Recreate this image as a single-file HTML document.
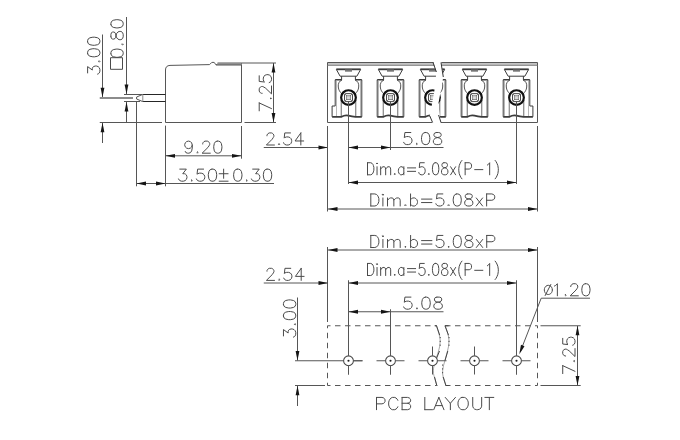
<!DOCTYPE html>
<html><head><meta charset="utf-8"><title>PCB terminal block drawing</title>
<style>
html,body{margin:0;padding:0;background:#fff;}
body{width:680px;height:440px;overflow:hidden;font-family:"Liberation Sans",sans-serif;}
svg{display:block;position:absolute;left:0;top:0;}
</style></head><body>
<svg width="680" height="440" viewBox="0 0 680 440"><path d="M165.5,122.5 L165.5,70 Q165.5,65.6 170,65.4 L209.6,64.6 L211.8,62.4 L214.2,62.4 L215.9,64.8 L241.5,64.8" fill="none" stroke="#565656" stroke-width="1" />
<line x1="241.5" y1="63" x2="241.5" y2="122.5" stroke="#565656" stroke-width="1" />
<line x1="165.5" y1="122.5" x2="241.5" y2="122.5" stroke="#565656" stroke-width="1" />
<rect x="217" y="63" width="24.5" height="2" fill="#c8c8c8"/>
<line x1="217.5" y1="63" x2="276" y2="63" stroke="#565656" stroke-width="1" />
<line x1="216" y1="64.8" x2="241.5" y2="64.8" stroke="#565656" stroke-width="1" />
<line x1="99.75" y1="122.5" x2="162" y2="122.5" stroke="#565656" stroke-width="1" />
<line x1="244.5" y1="122.5" x2="276" y2="122.5" stroke="#565656" stroke-width="1" />
<path d="M142.5,94.5 L165.5,94.5 M142.5,101.5 L165.5,101.5" fill="none" stroke="#262626" stroke-width="1" />
<path d="M142.8,94.5 L142.8,101.5" fill="none" stroke="#8a8a8a" stroke-width="1" />
<path d="M142.5,94.5 L136.6,97 L136.6,99 L142.5,101.5" fill="none" stroke="#555" stroke-width="1" />
<line x1="124" y1="94.5" x2="142" y2="94.5" stroke="#565656" stroke-width="1" />
<line x1="124" y1="101.5" x2="140" y2="101.5" stroke="#565656" stroke-width="1" />
<line x1="99.75" y1="98" x2="133" y2="98" stroke="#8c8c8c" stroke-width="2" />
<line x1="102.5" y1="34.5" x2="102.5" y2="97" stroke="#565656" stroke-width="1" />
<polygon points="102.5,97.2 100.6,87.7 104.4,87.7" fill="#151515"/>
<line x1="102.5" y1="123" x2="102.5" y2="143" stroke="#565656" stroke-width="1" />
<polygon points="102.5,122.8 104.4,132.3 100.6,132.3" fill="#151515"/>
<line x1="126.5" y1="17" x2="126.5" y2="94" stroke="#565656" stroke-width="1" />
<polygon points="126.5,94 124.6,84.5 128.4,84.5" fill="#151515"/>
<line x1="126.5" y1="102" x2="126.5" y2="122.5" stroke="#565656" stroke-width="1" />
<polygon points="126.5,102 128.4,111.5 124.6,111.5" fill="#151515"/>
<line x1="136.5" y1="101.5" x2="136.5" y2="186.3" stroke="#565656" stroke-width="1" />
<line x1="165.5" y1="125.6" x2="165.5" y2="186.3" stroke="#565656" stroke-width="1" />
<line x1="241.5" y1="126" x2="241.5" y2="158.7" stroke="#565656" stroke-width="1" />
<line x1="165.5" y1="155.8" x2="241.5" y2="155.8" stroke="#565656" stroke-width="1" />
<polygon points="165.5,155.8 175,153.9 175,157.7" fill="#151515"/>
<polygon points="241.5,155.8 232,157.7 232,153.9" fill="#151515"/>
<line x1="136.5" y1="183.5" x2="274" y2="183.5" stroke="#565656" stroke-width="1" />
<polygon points="136.5,183.5 146,181.6 146,185.4" fill="#151515"/>
<polygon points="165.5,183.5 156,185.4 156,181.6" fill="#151515"/>
<line x1="273.5" y1="63" x2="273.5" y2="122.5" stroke="#565656" stroke-width="1" />
<polygon points="273.5,63 275.4,72.5 271.6,72.5" fill="#151515"/>
<polygon points="273.5,122.5 271.6,113 275.4,113" fill="#151515"/>
<path d="M87.62,72.95 L87.62,66.6 L92.3,70.06 L92.3,68.33 L92.88,67.18 L93.47,66.6 L95.22,66.03 L96.39,66.03 L98.15,66.6 L99.32,67.76 L99.9,69.49 L99.9,71.22 L99.32,72.95 L98.73,73.52 L97.56,74.1M98.73,61.42 L99.32,61.99 L99.9,61.42 L99.32,60.84 L98.73,61.42M87.62,53.34 L88.2,55.07 L89.96,56.23 L92.88,56.8 L94.64,56.8 L97.56,56.23 L99.32,55.07 L99.9,53.34 L99.9,52.19 L99.32,50.46 L97.56,49.31 L94.64,48.73 L92.88,48.73 L89.96,49.31 L88.2,50.46 L87.62,52.19 L87.62,53.34M87.62,41.81 L88.2,43.54 L89.96,44.7 L92.88,45.27 L94.64,45.27 L97.56,44.7 L99.32,43.54 L99.9,41.81 L99.9,40.66 L99.32,38.93 L97.56,37.78 L94.64,37.2 L92.88,37.2 L89.96,37.78 L88.2,38.93 L87.62,40.66 L87.62,41.81" fill="none" stroke="#4a4a4a" stroke-width="1.0" stroke-linecap="round" stroke-linejoin="round"/>
<path d="M110.92,53.78 L111.5,55.54 L113.25,56.71 L116.18,57.3 L117.94,57.3 L120.86,56.71 L122.62,55.54 L123.2,53.78 L123.2,52.6 L122.62,50.84 L120.86,49.66 L117.94,49.08 L116.18,49.08 L113.25,49.66 L111.5,50.84 L110.92,52.6 L110.92,53.78M122.03,44.38 L122.62,44.96 L123.2,44.38 L122.62,43.79 L122.03,44.38M110.92,36.74 L111.5,38.5 L112.67,39.09 L113.84,39.09 L115.01,38.5 L115.59,37.33 L116.18,34.97 L116.77,33.21 L117.94,32.04 L119.11,31.45 L120.86,31.45 L122.03,32.04 L122.62,32.62 L123.2,34.39 L123.2,36.74 L122.62,38.5 L122.03,39.09 L120.86,39.67 L119.11,39.67 L117.94,39.09 L116.77,37.91 L116.18,36.15 L115.59,33.8 L115.01,32.62 L113.84,32.04 L112.67,32.04 L111.5,32.62 L110.92,34.39 L110.92,36.74M110.92,24.4 L111.5,26.16 L113.25,27.34 L116.18,27.92 L117.94,27.92 L120.86,27.34 L122.62,26.16 L123.2,24.4 L123.2,23.22 L122.62,21.46 L120.86,20.29 L117.94,19.7 L116.18,19.7 L113.25,20.29 L111.5,21.46 L110.92,23.22 L110.92,24.4" fill="none" stroke="#4a4a4a" stroke-width="1.0" stroke-linecap="round" stroke-linejoin="round"/>
<path d="M110.5,57.7 L122.5,57.7 L122.5,69.3 L110.5,69.3 Z" fill="none" stroke="#4a4a4a" stroke-width="1" />
<path d="M192.26,145.15 L191.67,146.88 L190.51,148.02 L188.77,148.6 L188.19,148.6 L186.44,148.02 L185.28,146.88 L184.7,145.15 L184.7,144.57 L185.28,142.85 L186.44,141.7 L188.19,141.12 L188.77,141.12 L190.51,141.7 L191.67,142.85 L192.26,145.15 L192.26,148.02 L191.67,150.9 L190.51,152.62 L188.77,153.2 L187.61,153.2 L185.86,152.62 L185.28,151.47M197.49,152.05 L196.91,152.62 L197.49,153.2 L198.07,152.62 L197.49,152.05M202.72,144 L202.72,143.42 L203.3,142.27 L203.88,141.7 L205.04,141.12 L207.37,141.12 L208.53,141.7 L209.11,142.27 L209.69,143.42 L209.69,144.57 L209.11,145.72 L207.95,147.45 L202.14,153.2 L210.28,153.2M217.25,141.12 L215.51,141.7 L214.34,143.42 L213.76,146.3 L213.76,148.02 L214.34,150.9 L215.51,152.62 L217.25,153.2 L218.41,153.2 L220.16,152.62 L221.32,150.9 L221.9,148.02 L221.9,146.3 L221.32,143.42 L220.16,141.7 L218.41,141.12 L217.25,141.12" fill="none" stroke="#4a4a4a" stroke-width="1.0" stroke-linecap="round" stroke-linejoin="round"/>
<path d="M179.79,169.12 L186.33,169.12 L182.76,173.72 L184.55,173.72 L185.74,174.3 L186.33,174.88 L186.93,176.6 L186.93,177.75 L186.33,179.47 L185.14,180.62 L183.36,181.2 L181.57,181.2 L179.79,180.62 L179.19,180.05 L178.6,178.9M191.69,180.05 L191.09,180.62 L191.69,181.2 L192.28,180.62 L191.69,180.05M203.59,169.12 L197.64,169.12 L197.04,174.3 L197.64,173.72 L199.42,173.15 L201.21,173.15 L202.99,173.72 L204.18,174.88 L204.78,176.6 L204.78,177.75 L204.18,179.47 L202.99,180.62 L201.21,181.2 L199.42,181.2 L197.64,180.62 L197.04,180.05 L196.45,178.9M211.91,169.12 L210.13,169.7 L208.94,171.42 L208.34,174.3 L208.34,176.02 L208.94,178.9 L210.13,180.62 L211.91,181.2 L213.1,181.2 L214.89,180.62 L216.08,178.9 L216.67,176.02 L216.67,174.3 L216.08,171.42 L214.89,169.7 L213.1,169.12 L211.91,169.12M223.63,169.12 L223.63,178.32M219.17,173.72 L228.09,173.72M219.17,181.2 L228.09,181.2M237.2,169.12 L235.41,169.7 L234.22,171.42 L233.63,174.3 L233.63,176.02 L234.22,178.9 L235.41,180.62 L237.2,181.2 L238.39,181.2 L240.17,180.62 L241.36,178.9 L241.96,176.02 L241.96,174.3 L241.36,171.42 L240.17,169.7 L238.39,169.12 L237.2,169.12M246.71,180.05 L246.12,180.62 L246.71,181.2 L247.31,180.62 L246.71,180.05M252.66,169.12 L259.21,169.12 L255.64,173.72 L257.42,173.72 L258.61,174.3 L259.21,174.88 L259.8,176.6 L259.8,177.75 L259.21,179.47 L258.02,180.62 L256.23,181.2 L254.45,181.2 L252.66,180.62 L252.07,180.05 L251.47,178.9M266.94,169.12 L265.16,169.7 L263.97,171.42 L263.37,174.3 L263.37,176.02 L263.97,178.9 L265.16,180.62 L266.94,181.2 L268.13,181.2 L269.92,180.62 L271.11,178.9 L271.7,176.02 L271.7,174.3 L271.11,171.42 L269.92,169.7 L268.13,169.12 L266.94,169.12" fill="none" stroke="#4a4a4a" stroke-width="1.0" stroke-linecap="round" stroke-linejoin="round"/>
<path d="M259.21,102.93 L271.5,108.59M259.21,110.85 L259.21,102.93M270.33,98.41 L270.92,98.97 L271.5,98.41 L270.92,97.84 L270.33,98.41M262.14,93.32 L261.56,93.32 L260.38,92.75 L259.8,92.18 L259.21,91.05 L259.21,88.79 L259.8,87.66 L260.38,87.09 L261.56,86.53 L262.73,86.53 L263.89,87.09 L265.65,88.22 L271.5,93.88 L271.5,85.96M259.21,75.78 L259.21,81.44 L264.48,82 L263.89,81.44 L263.31,79.74 L263.31,78.04 L263.89,76.35 L265.06,75.22 L266.82,74.65 L267.99,74.65 L269.75,75.22 L270.92,76.35 L271.5,78.04 L271.5,79.74 L270.92,81.44 L270.33,82 L269.16,82.57" fill="none" stroke="#4a4a4a" stroke-width="1.0" stroke-linecap="round" stroke-linejoin="round"/>
<path d="M266.97,135.8 L266.97,135.22 L267.55,134.07 L268.12,133.5 L269.27,132.93 L271.56,132.93 L272.71,133.5 L273.29,134.07 L273.86,135.22 L273.86,136.38 L273.29,137.53 L272.14,139.25 L266.4,145 L274.43,145M279.02,143.85 L278.45,144.43 L279.02,145 L279.6,144.43 L279.02,143.85M290.5,132.93 L284.76,132.93 L284.19,138.1 L284.76,137.53 L286.48,136.95 L288.21,136.95 L289.93,137.53 L291.08,138.68 L291.65,140.4 L291.65,141.55 L291.08,143.28 L289.93,144.43 L288.21,145 L286.48,145 L284.76,144.43 L284.19,143.85 L283.62,142.7M300.83,132.93 L295.09,140.97 L303.7,140.97M300.83,132.93 L300.83,145" fill="none" stroke="#4a4a4a" stroke-width="1.0" stroke-linecap="round" stroke-linejoin="round"/>
<line x1="263.75" y1="147.5" x2="328" y2="147.5" stroke="#565656" stroke-width="1" />
<polygon points="328,147.5 318.5,149.4 318.5,145.6" fill="#151515"/>
<rect x="327.5" y="62.5" width="210.0" height="2.8" fill="#c4c4c4"/>
<path d="M327.5,62.5 L537.5,62.5 L537.5,122.5 L327.5,122.5 Z" fill="none" stroke="#565656" stroke-width="1" />
<line x1="327.5" y1="65.3" x2="537.5" y2="65.3" stroke="#808080" stroke-width="1" />
<path d="M336.3,69.3 L360.7,69.3" fill="none" stroke="#3c3c3c" stroke-width="1.8" /><path d="M336.3,69.3 L340.1,76.2 L356.9,76.2 L360.7,69.3" fill="none" stroke="#3c3c3c" stroke-width="1" /><rect x="345" y="69.5" width="7" height="2.2" fill="#777"/><path d="M341.6,76.2 L341.6,79.8 M355.4,76.2 L355.4,79.8" fill="none" stroke="#3c3c3c" stroke-width="1" /><path d="M335.2,79.8 L342,79.8 M355,79.8 L361.8,79.8" fill="none" stroke="#3c3c3c" stroke-width="1.4" /><path d="M335.2,79.8 L335.2,106 L332.1,106 L332.1,116.8" fill="none" stroke="#3c3c3c" stroke-width="1" /><path d="M361.8,79.8 L361.8,116.8" fill="none" stroke="#3c3c3c" stroke-width="1" /><path d="M336.5,81 L336.5,116.8 M360.5,81 L360.5,116.8" fill="none" stroke="#b8b8b8" stroke-width="1" /><path d="M342,80 C339,81 337.9,84 338.3,87 C338.5,90 340,92 341.9,94" fill="none" stroke="#555" stroke-width="1" /><path d="M355,80 C358,81 359.1,84 358.7,87 C358.5,90 357,92 355.1,94" fill="none" stroke="#555" stroke-width="1" /><path d="M341.3,100 L341.3,116.8 M355.7,100 L355.7,116.8" fill="none" stroke="#8e8e8e" stroke-width="1.3" /><path d="M332.1,116.8 L341.5,116.8 Q345,114.6 348.5,115.6 Q352,116.6 355.5,116.8 L361.8,116.8" fill="none" stroke="#3c3c3c" stroke-width="1.7" /><circle cx="348.5" cy="97.6" r="7.35" fill="#fff" stroke="#111" stroke-width="2.2"/><rect x="344.5" y="93.6" width="8" height="8" rx="1.3" fill="#fafafa" stroke="#4a4a4a" stroke-width="1"/><path d="M344.9,94 L352.1,101.2 M352.1,94 L344.9,101.2" fill="none" stroke="#5a5a5a" stroke-width="0.9" /><rect x="346.7" y="95.8" width="3.6" height="3.6" fill="#dcdcdc" stroke="#666" stroke-width="0.7"/><line x1="348.5" y1="101.2" x2="348.5" y2="184" stroke="#565656" stroke-width="1" />
<path d="M378.3,69.3 L402.7,69.3" fill="none" stroke="#3c3c3c" stroke-width="1.8" /><path d="M378.3,69.3 L382.1,76.2 L398.9,76.2 L402.7,69.3" fill="none" stroke="#3c3c3c" stroke-width="1" /><rect x="387" y="69.5" width="7" height="2.2" fill="#777"/><path d="M383.6,76.2 L383.6,79.8 M397.4,76.2 L397.4,79.8" fill="none" stroke="#3c3c3c" stroke-width="1" /><path d="M377.2,79.8 L384,79.8 M397,79.8 L403.8,79.8" fill="none" stroke="#3c3c3c" stroke-width="1.4" /><path d="M377.2,79.8 L377.2,116.8 M403.8,79.8 L403.8,116.8" fill="none" stroke="#3c3c3c" stroke-width="1" /><path d="M378.5,81 L378.5,116.8 M402.5,81 L402.5,116.8" fill="none" stroke="#b8b8b8" stroke-width="1" /><path d="M384,80 C381,81 379.9,84 380.3,87 C380.5,90 382,92 383.9,94" fill="none" stroke="#555" stroke-width="1" /><path d="M397,80 C400,81 401.1,84 400.7,87 C400.5,90 399,92 397.1,94" fill="none" stroke="#555" stroke-width="1" /><path d="M383.3,100 L383.3,116.8 M397.7,100 L397.7,116.8" fill="none" stroke="#8e8e8e" stroke-width="1.3" /><path d="M377.2,116.8 L383.5,116.8 Q387,114.6 390.5,115.6 Q394,116.6 397.5,116.8 L403.8,116.8" fill="none" stroke="#3c3c3c" stroke-width="1.7" /><circle cx="390.5" cy="97.6" r="7.35" fill="#fff" stroke="#111" stroke-width="2.2"/><rect x="386.5" y="93.6" width="8" height="8" rx="1.3" fill="#fafafa" stroke="#4a4a4a" stroke-width="1"/><path d="M386.9,94 L394.1,101.2 M394.1,94 L386.9,101.2" fill="none" stroke="#5a5a5a" stroke-width="0.9" /><rect x="388.7" y="95.8" width="3.6" height="3.6" fill="#dcdcdc" stroke="#666" stroke-width="0.7"/><line x1="390.5" y1="101.2" x2="390.5" y2="150" stroke="#565656" stroke-width="1" />
<path d="M420.3,69.3 L444.7,69.3" fill="none" stroke="#3c3c3c" stroke-width="1.8" /><path d="M420.3,69.3 L424.1,76.2 L440.9,76.2 L444.7,69.3" fill="none" stroke="#3c3c3c" stroke-width="1" /><rect x="429" y="69.5" width="7" height="2.2" fill="#777"/><path d="M425.6,76.2 L425.6,79.8 M439.4,76.2 L439.4,79.8" fill="none" stroke="#3c3c3c" stroke-width="1" /><path d="M419.2,79.8 L426,79.8 M439,79.8 L445.8,79.8" fill="none" stroke="#3c3c3c" stroke-width="1.4" /><path d="M419.2,79.8 L419.2,116.8 M445.8,79.8 L445.8,116.8" fill="none" stroke="#3c3c3c" stroke-width="1" /><path d="M420.5,81 L420.5,116.8 M444.5,81 L444.5,116.8" fill="none" stroke="#b8b8b8" stroke-width="1" /><path d="M426,80 C423,81 421.9,84 422.3,87 C422.5,90 424,92 425.9,94" fill="none" stroke="#555" stroke-width="1" /><path d="M439,80 C442,81 443.1,84 442.7,87 C442.5,90 441,92 439.1,94" fill="none" stroke="#555" stroke-width="1" /><path d="M425.3,100 L425.3,116.8 M439.7,100 L439.7,116.8" fill="none" stroke="#8e8e8e" stroke-width="1.3" /><path d="M419.2,116.8 L425.5,116.8 Q429,114.6 432.5,115.6 Q436,116.6 439.5,116.8 L445.8,116.8" fill="none" stroke="#3c3c3c" stroke-width="1.7" /><circle cx="432.5" cy="97.6" r="7.35" fill="#fff" stroke="#111" stroke-width="2.2"/><rect x="428.5" y="93.6" width="8" height="8" rx="1.3" fill="#fafafa" stroke="#4a4a4a" stroke-width="1"/><path d="M428.9,94 L436.1,101.2 M436.1,94 L428.9,101.2" fill="none" stroke="#5a5a5a" stroke-width="0.9" /><rect x="430.7" y="95.8" width="3.6" height="3.6" fill="#dcdcdc" stroke="#666" stroke-width="0.7"/>
<path d="M462.3,69.3 L486.7,69.3" fill="none" stroke="#3c3c3c" stroke-width="1.8" /><path d="M462.3,69.3 L466.1,76.2 L482.9,76.2 L486.7,69.3" fill="none" stroke="#3c3c3c" stroke-width="1" /><rect x="471" y="69.5" width="7" height="2.2" fill="#777"/><path d="M467.6,76.2 L467.6,79.8 M481.4,76.2 L481.4,79.8" fill="none" stroke="#3c3c3c" stroke-width="1" /><path d="M461.2,79.8 L468,79.8 M481,79.8 L487.8,79.8" fill="none" stroke="#3c3c3c" stroke-width="1.4" /><path d="M461.2,79.8 L461.2,116.8 M487.8,79.8 L487.8,116.8" fill="none" stroke="#3c3c3c" stroke-width="1" /><path d="M462.5,81 L462.5,116.8 M486.5,81 L486.5,116.8" fill="none" stroke="#b8b8b8" stroke-width="1" /><path d="M468,80 C465,81 463.9,84 464.3,87 C464.5,90 466,92 467.9,94" fill="none" stroke="#555" stroke-width="1" /><path d="M481,80 C484,81 485.1,84 484.7,87 C484.5,90 483,92 481.1,94" fill="none" stroke="#555" stroke-width="1" /><path d="M467.3,100 L467.3,116.8 M481.7,100 L481.7,116.8" fill="none" stroke="#8e8e8e" stroke-width="1.3" /><path d="M461.2,116.8 L467.5,116.8 Q471,114.6 474.5,115.6 Q478,116.6 481.5,116.8 L487.8,116.8" fill="none" stroke="#3c3c3c" stroke-width="1.7" /><circle cx="474.5" cy="97.6" r="7.35" fill="#fff" stroke="#111" stroke-width="2.2"/><rect x="470.5" y="93.6" width="8" height="8" rx="1.3" fill="#fafafa" stroke="#4a4a4a" stroke-width="1"/><path d="M470.9,94 L478.1,101.2 M478.1,94 L470.9,101.2" fill="none" stroke="#5a5a5a" stroke-width="0.9" /><rect x="472.7" y="95.8" width="3.6" height="3.6" fill="#dcdcdc" stroke="#666" stroke-width="0.7"/>
<path d="M504.3,69.3 L528.7,69.3" fill="none" stroke="#3c3c3c" stroke-width="1.8" /><path d="M504.3,69.3 L508.1,76.2 L524.9,76.2 L528.7,69.3" fill="none" stroke="#3c3c3c" stroke-width="1" /><rect x="513" y="69.5" width="7" height="2.2" fill="#777"/><path d="M509.6,76.2 L509.6,79.8 M523.4,76.2 L523.4,79.8" fill="none" stroke="#3c3c3c" stroke-width="1" /><path d="M503.2,79.8 L510,79.8 M523,79.8 L529.8,79.8" fill="none" stroke="#3c3c3c" stroke-width="1.4" /><path d="M529.8,79.8 L529.8,106 L532.9,106 L532.9,116.8" fill="none" stroke="#3c3c3c" stroke-width="1" /><path d="M503.2,79.8 L503.2,116.8" fill="none" stroke="#3c3c3c" stroke-width="1" /><path d="M504.5,81 L504.5,116.8 M528.5,81 L528.5,116.8" fill="none" stroke="#b8b8b8" stroke-width="1" /><path d="M510,80 C507,81 505.9,84 506.3,87 C506.5,90 508,92 509.9,94" fill="none" stroke="#555" stroke-width="1" /><path d="M523,80 C526,81 527.1,84 526.7,87 C526.5,90 525,92 523.1,94" fill="none" stroke="#555" stroke-width="1" /><path d="M509.3,100 L509.3,116.8 M523.7,100 L523.7,116.8" fill="none" stroke="#8e8e8e" stroke-width="1.3" /><path d="M503.2,116.8 L509.5,116.8 Q513,114.6 516.5,115.6 Q520,116.6 523.5,116.8 L532.9,116.8" fill="none" stroke="#3c3c3c" stroke-width="1.7" /><circle cx="516.5" cy="97.6" r="7.35" fill="#fff" stroke="#111" stroke-width="2.2"/><rect x="512.5" y="93.6" width="8" height="8" rx="1.3" fill="#fafafa" stroke="#4a4a4a" stroke-width="1"/><path d="M512.9,94 L520.1,101.2 M520.1,94 L512.9,101.2" fill="none" stroke="#5a5a5a" stroke-width="0.9" /><rect x="514.7" y="95.8" width="3.6" height="3.6" fill="#dcdcdc" stroke="#666" stroke-width="0.7"/><line x1="516.5" y1="101.2" x2="516.5" y2="184" stroke="#565656" stroke-width="1" />
<polygon points="433,60 441,60 443.3,77 438.3,104 441,124 432.6,124 429.8,116 434.5,90 436.4,72" fill="#fff"/>
<path d="M433,62.5 L436.4,72 M441,62.5 L443.3,77 M429.8,116 L432.6,122.5 M438.6,115 L441,122.5" fill="none" stroke="#333" stroke-width="1" />
<line x1="327.5" y1="126" x2="327.5" y2="211.5" stroke="#565656" stroke-width="1" />
<line x1="537.5" y1="126" x2="537.5" y2="211.5" stroke="#565656" stroke-width="1" />
<line x1="328" y1="147.5" x2="349" y2="147.5" stroke="#565656" stroke-width="1" stroke-opacity="0"/>
<line x1="348.5" y1="147.5" x2="443.5" y2="147.5" stroke="#565656" stroke-width="1" />
<polygon points="348.5,147.5 358,145.6 358,149.4" fill="#151515"/>
<polygon points="390.5,147.5 381,149.4 381,145.6" fill="#151515"/>
<path d="M410.82,132.53 L404.89,132.53 L404.29,137.7 L404.89,137.12 L406.67,136.55 L408.45,136.55 L410.23,137.12 L411.42,138.28 L412.01,140 L412.01,141.15 L411.42,142.88 L410.23,144.03 L408.45,144.6 L406.67,144.6 L404.89,144.03 L404.29,143.45 L403.7,142.3M416.76,143.45 L416.17,144.03 L416.76,144.6 L417.36,144.03 L416.76,143.45M425.07,132.53 L423.29,133.1 L422.11,134.82 L421.51,137.7 L421.51,139.42 L422.11,142.3 L423.29,144.03 L425.07,144.6 L426.26,144.6 L428.04,144.03 L429.23,142.3 L429.82,139.42 L429.82,137.7 L429.23,134.82 L428.04,133.1 L426.26,132.53 L425.07,132.53M436.36,132.53 L434.57,133.1 L433.98,134.25 L433.98,135.4 L434.57,136.55 L435.76,137.12 L438.14,137.7 L439.92,138.28 L441.11,139.42 L441.7,140.57 L441.7,142.3 L441.11,143.45 L440.51,144.03 L438.73,144.6 L436.36,144.6 L434.57,144.03 L433.98,143.45 L433.39,142.3 L433.39,140.57 L433.98,139.42 L435.17,138.28 L436.95,137.7 L439.32,137.12 L440.51,136.55 L441.11,135.4 L441.11,134.25 L440.51,133.1 L438.73,132.53 L436.36,132.53" fill="none" stroke="#4a4a4a" stroke-width="1.0" stroke-linecap="round" stroke-linejoin="round"/>
<line x1="348.5" y1="182.5" x2="516.5" y2="182.5" stroke="#565656" stroke-width="1" />
<polygon points="348.5,182.5 358,180.6 358,184.4" fill="#151515"/>
<polygon points="516.5,182.5 507,184.4 507,180.6" fill="#151515"/>
<path d="M367.5,162.73 L367.5,174.8M367.5,162.73 L370.68,162.73 L372.04,163.3 L372.95,164.45 L373.4,165.6 L373.86,167.33 L373.86,170.2 L373.4,171.93 L372.95,173.08 L372.04,174.23 L370.68,174.8 L367.5,174.8M376.63,163.47 L377.04,163.99 L377.45,163.47 L377.04,162.96 L376.63,163.47 L377.45,163.47M377.04,166.75 L377.04,174.8M380.67,166.75 L380.67,174.8M380.67,169.05 L382.03,167.33 L382.94,166.75 L384.3,166.75 L385.21,167.33 L385.67,169.05 L385.67,174.8M385.67,169.05 L387.03,167.33 L387.94,166.75 L389.3,166.75 L390.21,167.33 L390.66,169.05 L390.66,174.8M394.75,173.65 L394.3,174.23 L394.75,174.8 L395.2,174.23 L394.75,173.65M403.83,166.75 L403.83,174.8M403.83,168.48 L402.93,167.33 L402.02,166.75 L400.65,166.75 L399.75,167.33 L398.84,168.48 L398.38,170.2 L398.38,171.35 L398.84,173.08 L399.75,174.23 L400.65,174.8 L402.02,174.8 L402.93,174.23 L403.83,173.08M407.47,167.9 L415.64,167.9M407.47,171.35 L415.64,171.35M424.27,162.73 L419.73,162.73 L419.27,167.9 L419.73,167.33 L421.09,166.75 L422.45,166.75 L423.82,167.33 L424.73,168.48 L425.18,170.2 L425.18,171.35 L424.73,173.08 L423.82,174.23 L422.45,174.8 L421.09,174.8 L419.73,174.23 L419.27,173.65 L418.82,172.5M428.81,173.65 L428.36,174.23 L428.81,174.8 L429.27,174.23 L428.81,173.65M435.17,162.73 L433.81,163.3 L432.9,165.03 L432.45,167.9 L432.45,169.62 L432.9,172.5 L433.81,174.23 L435.17,174.8 L436.08,174.8 L437.44,174.23 L438.35,172.5 L438.8,169.62 L438.8,167.9 L438.35,165.03 L437.44,163.3 L436.08,162.73 L435.17,162.73M443.8,162.73 L442.44,163.3 L441.98,164.45 L441.98,165.6 L442.44,166.75 L443.35,167.33 L445.16,167.9 L446.52,168.48 L447.43,169.62 L447.89,170.78 L447.89,172.5 L447.43,173.65 L446.98,174.23 L445.62,174.8 L443.8,174.8 L442.44,174.23 L441.98,173.65 L441.53,172.5 L441.53,170.78 L441.98,169.62 L442.89,168.48 L444.25,167.9 L446.07,167.33 L446.98,166.75 L447.43,165.6 L447.43,164.45 L446.98,163.3 L445.62,162.73 L443.8,162.73M450.61,166.75 L455.61,174.8M455.61,166.75 L450.61,174.8M461.97,160.43 L461.06,161.58 L460.15,163.3 L459.24,165.6 L458.79,168.48 L458.79,170.78 L459.24,173.65 L460.15,175.95 L461.06,177.68 L461.97,178.83M465.15,162.73 L465.15,174.8M465.15,162.73 L469.23,162.73 L470.6,163.3 L471.05,163.88 L471.5,165.03 L471.5,166.75 L471.05,167.9 L470.6,168.48 L469.23,169.05 L465.15,169.05M474.68,169.62 L482.86,169.62M487.4,165.03 L488.31,164.45 L489.67,162.73 L489.67,174.8M495.12,160.43 L496.03,161.58 L496.94,163.3 L497.85,165.6 L498.3,168.48 L498.3,170.78 L497.85,173.65 L496.94,175.95 L496.03,177.68 L495.12,178.83" fill="none" stroke="#4a4a4a" stroke-width="1.0" stroke-linecap="round" stroke-linejoin="round"/>
<line x1="328" y1="209" x2="537.5" y2="209" stroke="#565656" stroke-width="1" />
<polygon points="328,209 337.5,207.1 337.5,210.9" fill="#151515"/>
<polygon points="537.5,209 528,210.9 528,207.1" fill="#151515"/>
<path d="M370.8,193.93 L370.8,206M370.8,193.93 L374.83,193.93 L376.56,194.5 L377.72,195.65 L378.29,196.8 L378.87,198.53 L378.87,201.4 L378.29,203.12 L377.72,204.28 L376.56,205.43 L374.83,206 L370.8,206M382.38,194.67 L382.9,195.19 L383.42,194.67 L382.9,194.16 L382.38,194.67 L383.42,194.67M382.9,197.95 L382.9,206M387.51,197.95 L387.51,206M387.51,200.25 L389.24,198.53 L390.39,197.95 L392.12,197.95 L393.27,198.53 L393.85,200.25 L393.85,206M393.85,200.25 L395.58,198.53 L396.73,197.95 L398.46,197.95 L399.61,198.53 L400.19,200.25 L400.19,206M405.38,204.85 L404.8,205.43 L405.38,206 L405.95,205.43 L405.38,204.85M410.56,193.93 L410.56,206M410.56,199.68 L411.72,198.53 L412.87,197.95 L414.6,197.95 L415.75,198.53 L416.9,199.68 L417.48,201.4 L417.48,202.55 L416.9,204.28 L415.75,205.43 L414.6,206 L412.87,206 L411.72,205.43 L410.56,204.28M421.51,199.1 L431.89,199.1M421.51,202.55 L431.89,202.55M442.83,193.93 L437.07,193.93 L436.5,199.1 L437.07,198.53 L438.8,197.95 L440.53,197.95 L442.26,198.53 L443.41,199.68 L443.99,201.4 L443.99,202.55 L443.41,204.28 L442.26,205.43 L440.53,206 L438.8,206 L437.07,205.43 L436.5,204.85 L435.92,203.7M448.6,204.85 L448.02,205.43 L448.6,206 L449.17,205.43 L448.6,204.85M456.67,193.93 L454.94,194.5 L453.78,196.22 L453.21,199.1 L453.21,200.82 L453.78,203.7 L454.94,205.43 L456.67,206 L457.82,206 L459.55,205.43 L460.7,203.7 L461.28,200.82 L461.28,199.1 L460.7,196.22 L459.55,194.5 L457.82,193.93 L456.67,193.93M467.61,193.93 L465.89,194.5 L465.31,195.65 L465.31,196.8 L465.89,197.95 L467.04,198.53 L469.34,199.1 L471.07,199.68 L472.23,200.82 L472.8,201.97 L472.8,203.7 L472.23,204.85 L471.65,205.43 L469.92,206 L467.61,206 L465.89,205.43 L465.31,204.85 L464.73,203.7 L464.73,201.97 L465.31,200.82 L466.46,199.68 L468.19,199.1 L470.5,198.53 L471.65,197.95 L472.23,196.8 L472.23,195.65 L471.65,194.5 L469.92,193.93 L467.61,193.93M476.26,197.95 L482.6,206M482.6,197.95 L476.26,206M486.63,193.93 L486.63,206M486.63,193.93 L491.82,193.93 L493.55,194.5 L494.12,195.07 L494.7,196.22 L494.7,197.95 L494.12,199.1 L493.55,199.68 L491.82,200.25 L486.63,200.25" fill="none" stroke="#4a4a4a" stroke-width="1.0" stroke-linecap="round" stroke-linejoin="round"/>
<line x1="327.5" y1="247" x2="327.5" y2="322" stroke="#565656" stroke-width="1" />
<line x1="537.5" y1="247" x2="537.5" y2="322" stroke="#565656" stroke-width="1" />
<line x1="328" y1="250" x2="537.5" y2="250" stroke="#565656" stroke-width="1" />
<polygon points="328,250 337.5,248.1 337.5,251.9" fill="#151515"/>
<polygon points="537.5,250 528,251.9 528,248.1" fill="#151515"/>
<path d="M370.8,235.43 L370.8,247.5M370.8,235.43 L374.84,235.43 L376.57,236 L377.72,237.15 L378.3,238.3 L378.87,240.03 L378.87,242.9 L378.3,244.62 L377.72,245.78 L376.57,246.93 L374.84,247.5 L370.8,247.5M382.39,236.17 L382.91,236.69 L383.43,236.17 L382.91,235.66 L382.39,236.17 L383.43,236.17M382.91,239.45 L382.91,247.5M387.53,239.45 L387.53,247.5M387.53,241.75 L389.26,240.03 L390.41,239.45 L392.14,239.45 L393.29,240.03 L393.87,241.75 L393.87,247.5M393.87,241.75 L395.6,240.03 L396.75,239.45 L398.48,239.45 L399.64,240.03 L400.21,241.75 L400.21,247.5M405.4,246.35 L404.83,246.93 L405.4,247.5 L405.98,246.93 L405.4,246.35M410.6,235.43 L410.6,247.5M410.6,241.18 L411.75,240.03 L412.9,239.45 L414.63,239.45 L415.79,240.03 L416.94,241.18 L417.52,242.9 L417.52,244.05 L416.94,245.78 L415.79,246.93 L414.63,247.5 L412.9,247.5 L411.75,246.93 L410.6,245.78M421.55,240.6 L431.93,240.6M421.55,244.05 L431.93,244.05M442.89,235.43 L437.13,235.43 L436.55,240.6 L437.13,240.03 L438.86,239.45 L440.59,239.45 L442.32,240.03 L443.47,241.18 L444.05,242.9 L444.05,244.05 L443.47,245.78 L442.32,246.93 L440.59,247.5 L438.86,247.5 L437.13,246.93 L436.55,246.35 L435.97,245.2M448.66,246.35 L448.08,246.93 L448.66,247.5 L449.24,246.93 L448.66,246.35M456.73,235.43 L455,236 L453.85,237.72 L453.27,240.6 L453.27,242.32 L453.85,245.2 L455,246.93 L456.73,247.5 L457.89,247.5 L459.62,246.93 L460.77,245.2 L461.35,242.32 L461.35,240.6 L460.77,237.72 L459.62,236 L457.89,235.43 L456.73,235.43M467.69,235.43 L465.96,236 L465.39,237.15 L465.39,238.3 L465.96,239.45 L467.12,240.03 L469.42,240.6 L471.15,241.18 L472.31,242.32 L472.88,243.47 L472.88,245.2 L472.31,246.35 L471.73,246.93 L470,247.5 L467.69,247.5 L465.96,246.93 L465.39,246.35 L464.81,245.2 L464.81,243.47 L465.39,242.32 L466.54,241.18 L468.27,240.6 L470.58,240.03 L471.73,239.45 L472.31,238.3 L472.31,237.15 L471.73,236 L470,235.43 L467.69,235.43M476.34,239.45 L482.69,247.5M482.69,239.45 L476.34,247.5M486.73,235.43 L486.73,247.5M486.73,235.43 L491.92,235.43 L493.65,236 L494.22,236.57 L494.8,237.72 L494.8,239.45 L494.22,240.6 L493.65,241.18 L491.92,241.75 L486.73,241.75" fill="none" stroke="#4a4a4a" stroke-width="1.0" stroke-linecap="round" stroke-linejoin="round"/>
<line x1="263.75" y1="283" x2="328" y2="283" stroke="#565656" stroke-width="1" />
<polygon points="328,283 318.5,284.9 318.5,281.1" fill="#151515"/>
<path d="M266.98,271.2 L266.98,270.62 L267.56,269.47 L268.14,268.9 L269.3,268.32 L271.62,268.32 L272.78,268.9 L273.36,269.47 L273.94,270.62 L273.94,271.77 L273.36,272.92 L272.2,274.65 L266.4,280.4 L274.52,280.4M279.16,279.25 L278.58,279.82 L279.16,280.4 L279.74,279.82 L279.16,279.25M290.76,268.32 L284.96,268.32 L284.38,273.5 L284.96,272.92 L286.7,272.35 L288.44,272.35 L290.18,272.92 L291.34,274.07 L291.92,275.8 L291.92,276.95 L291.34,278.67 L290.18,279.82 L288.44,280.4 L286.7,280.4 L284.96,279.82 L284.38,279.25 L283.8,278.1M301.2,268.32 L295.4,276.38 L304.1,276.38M301.2,268.32 L301.2,280.4" fill="none" stroke="#4a4a4a" stroke-width="1.0" stroke-linecap="round" stroke-linejoin="round"/>
<line x1="348.5" y1="283" x2="516.5" y2="283" stroke="#565656" stroke-width="1" />
<polygon points="348.5,283 358,281.1 358,284.9" fill="#151515"/>
<polygon points="516.5,283 507,284.9 507,281.1" fill="#151515"/>
<line x1="348.5" y1="280.5" x2="348.5" y2="374.5" stroke="#565656" stroke-width="1" />
<line x1="516.5" y1="280.5" x2="516.5" y2="374.5" stroke="#565656" stroke-width="1" />
<path d="M367.5,263.43 L367.5,275.5M367.5,263.43 L370.68,263.43 L372.04,264 L372.95,265.15 L373.4,266.3 L373.86,268.02 L373.86,270.9 L373.4,272.62 L372.95,273.77 L372.04,274.93 L370.68,275.5 L367.5,275.5M376.63,264.17 L377.04,264.69 L377.45,264.17 L377.04,263.65 L376.63,264.17 L377.45,264.17M377.04,267.45 L377.04,275.5M380.67,267.45 L380.67,275.5M380.67,269.75 L382.03,268.02 L382.94,267.45 L384.3,267.45 L385.21,268.02 L385.67,269.75 L385.67,275.5M385.67,269.75 L387.03,268.02 L387.94,267.45 L389.3,267.45 L390.21,268.02 L390.66,269.75 L390.66,275.5M394.75,274.35 L394.3,274.93 L394.75,275.5 L395.2,274.93 L394.75,274.35M403.83,267.45 L403.83,275.5M403.83,269.18 L402.93,268.02 L402.02,267.45 L400.65,267.45 L399.75,268.02 L398.84,269.18 L398.38,270.9 L398.38,272.05 L398.84,273.77 L399.75,274.93 L400.65,275.5 L402.02,275.5 L402.93,274.93 L403.83,273.77M407.47,268.6 L415.64,268.6M407.47,272.05 L415.64,272.05M424.27,263.43 L419.73,263.43 L419.27,268.6 L419.73,268.02 L421.09,267.45 L422.45,267.45 L423.82,268.02 L424.73,269.18 L425.18,270.9 L425.18,272.05 L424.73,273.77 L423.82,274.93 L422.45,275.5 L421.09,275.5 L419.73,274.93 L419.27,274.35 L418.82,273.2M428.81,274.35 L428.36,274.93 L428.81,275.5 L429.27,274.93 L428.81,274.35M435.17,263.43 L433.81,264 L432.9,265.73 L432.45,268.6 L432.45,270.32 L432.9,273.2 L433.81,274.93 L435.17,275.5 L436.08,275.5 L437.44,274.93 L438.35,273.2 L438.8,270.32 L438.8,268.6 L438.35,265.73 L437.44,264 L436.08,263.43 L435.17,263.43M443.8,263.43 L442.44,264 L441.98,265.15 L441.98,266.3 L442.44,267.45 L443.35,268.02 L445.16,268.6 L446.52,269.18 L447.43,270.32 L447.89,271.48 L447.89,273.2 L447.43,274.35 L446.98,274.93 L445.62,275.5 L443.8,275.5 L442.44,274.93 L441.98,274.35 L441.53,273.2 L441.53,271.48 L441.98,270.32 L442.89,269.18 L444.25,268.6 L446.07,268.02 L446.98,267.45 L447.43,266.3 L447.43,265.15 L446.98,264 L445.62,263.43 L443.8,263.43M450.61,267.45 L455.61,275.5M455.61,267.45 L450.61,275.5M461.97,261.12 L461.06,262.27 L460.15,264 L459.24,266.3 L458.79,269.18 L458.79,271.48 L459.24,274.35 L460.15,276.65 L461.06,278.38 L461.97,279.52M465.15,263.43 L465.15,275.5M465.15,263.43 L469.23,263.43 L470.6,264 L471.05,264.57 L471.5,265.73 L471.5,267.45 L471.05,268.6 L470.6,269.18 L469.23,269.75 L465.15,269.75M474.68,270.32 L482.86,270.32M487.4,265.73 L488.31,265.15 L489.67,263.43 L489.67,275.5M495.12,261.12 L496.03,262.27 L496.94,264 L497.85,266.3 L498.3,269.18 L498.3,271.48 L497.85,274.35 L496.94,276.65 L496.03,278.38 L495.12,279.52" fill="none" stroke="#4a4a4a" stroke-width="1.0" stroke-linecap="round" stroke-linejoin="round"/>
<line x1="348.5" y1="311.75" x2="443.5" y2="311.75" stroke="#565656" stroke-width="1" />
<polygon points="348.5,311.75 358,309.85 358,313.65" fill="#151515"/>
<polygon points="390.5,311.75 381,313.65 381,309.85" fill="#151515"/>
<line x1="390.5" y1="309.5" x2="390.5" y2="374.5" stroke="#565656" stroke-width="1" />
<path d="M410.94,297.12 L404.91,297.12 L404.3,302.3 L404.91,301.72 L406.72,301.15 L408.52,301.15 L410.33,301.72 L411.54,302.88 L412.14,304.6 L412.14,305.75 L411.54,307.47 L410.33,308.62 L408.52,309.2 L406.72,309.2 L404.91,308.62 L404.3,308.05 L403.7,306.9M416.97,308.05 L416.37,308.62 L416.97,309.2 L417.57,308.62 L416.97,308.05M425.41,297.12 L423.6,297.7 L422.4,299.43 L421.79,302.3 L421.79,304.02 L422.4,306.9 L423.6,308.62 L425.41,309.2 L426.62,309.2 L428.43,308.62 L429.63,306.9 L430.24,304.02 L430.24,302.3 L429.63,299.43 L428.43,297.7 L426.62,297.12 L425.41,297.12M436.87,297.12 L435.06,297.7 L434.46,298.85 L434.46,300 L435.06,301.15 L436.27,301.72 L438.68,302.3 L440.49,302.88 L441.7,304.02 L442.3,305.18 L442.3,306.9 L441.7,308.05 L441.09,308.62 L439.28,309.2 L436.87,309.2 L435.06,308.62 L434.46,308.05 L433.86,306.9 L433.86,305.18 L434.46,304.02 L435.67,302.88 L437.48,302.3 L439.89,301.72 L441.09,301.15 L441.7,300 L441.7,298.85 L441.09,297.7 L439.28,297.12 L436.87,297.12" fill="none" stroke="#4a4a4a" stroke-width="1.0" stroke-linecap="round" stroke-linejoin="round"/>
<line x1="297.5" y1="297.5" x2="297.5" y2="360.5" stroke="#565656" stroke-width="1" />
<polygon points="297.5,360.6 295.6,351.1 299.4,351.1" fill="#151515"/>
<line x1="297.5" y1="386" x2="297.5" y2="406" stroke="#565656" stroke-width="1" />
<polygon points="297.5,385.7 299.4,395.2 295.6,395.2" fill="#151515"/>
<line x1="295" y1="360.75" x2="362.5" y2="360.75" stroke="#565656" stroke-width="1" />
<line x1="295" y1="385.5" x2="325" y2="385.5" stroke="#565656" stroke-width="1" />
<path d="M283.46,335.94 L283.46,329.54 L288.14,333.03 L288.14,331.29 L288.73,330.12 L289.31,329.54 L291.07,328.96 L292.24,328.96 L294,329.54 L295.17,330.71 L295.75,332.45 L295.75,334.19 L295.17,335.94 L294.58,336.52 L293.41,337.1M294.58,324.31 L295.17,324.89 L295.75,324.31 L295.17,323.73 L294.58,324.31M283.46,316.18 L284.05,317.92 L285.81,319.08 L288.73,319.66 L290.49,319.66 L293.41,319.08 L295.17,317.92 L295.75,316.18 L295.75,315.01 L295.17,313.27 L293.41,312.11 L290.49,311.52 L288.73,311.52 L285.81,312.11 L284.05,313.27 L283.46,315.01 L283.46,316.18M283.46,304.55 L284.05,306.29 L285.81,307.46 L288.73,308.04 L290.49,308.04 L293.41,307.46 L295.17,306.29 L295.75,304.55 L295.75,303.39 L295.17,301.64 L293.41,300.48 L290.49,299.9 L288.73,299.9 L285.81,300.48 L284.05,301.64 L283.46,303.39 L283.46,304.55" fill="none" stroke="#4a4a4a" stroke-width="1.0" stroke-linecap="round" stroke-linejoin="round"/>
<path d="M327.5,325.75 L537.5,325.75" fill="none" stroke="#565656" stroke-width="1" stroke-dasharray="5.5 4.5" stroke-dashoffset="2.5"/>
<path d="M327.5,385.5 L537.5,385.5" fill="none" stroke="#565656" stroke-width="1" stroke-dasharray="5.5 4.5" stroke-dashoffset="2.5"/>
<path d="M327.5,325.75 L327.5,385.5" fill="none" stroke="#565656" stroke-width="1" stroke-dasharray="5.5 4.5" stroke-dashoffset="3"/>
<path d="M537.5,325.75 L537.5,385.5" fill="none" stroke="#565656" stroke-width="1" stroke-dasharray="5.5 4.5" stroke-dashoffset="3"/>
<rect x="437" y="323" width="7.6" height="5" fill="#fff"/><rect x="437.4" y="383" width="8" height="5" fill="#fff"/>
<path d="M436.5,325.75 C438,331 440.2,336 440.2,341 C440.2,348 437.5,354 435.3,361 C433,368 432.8,373 434.4,377 L436.8,385.5" fill="none" stroke="#a8a8a8" stroke-width="1" />
<path d="M434.6,325.75 L436.5,325.75 L439.7,335.2 M439.5,351 L436.6,358.2 M434.5,377 L436.8,385.5" fill="none" stroke="#444" stroke-width="1" />
<path d="M440.2,337 L440.2,347" fill="none" stroke="#444" stroke-width="1" stroke-dasharray="1.2 2.6"/>
<path d="M445,325.75 C447,331 449,336 449,341 C449,348 446.5,354 444.8,361 C442.5,368 442,373 443.2,377 L445.9,385.5" fill="none" stroke="#a8a8a8" stroke-width="1" />
<path d="M448.6,325.75 L445,325.75 L448.5,335.2 M447.8,351 L445,360.5 M443.2,377 L445.9,385.5 L448.6,385.5" fill="none" stroke="#444" stroke-width="1" />
<path d="M449,337 L449,347 M442.6,364.5 L442.6,375" fill="none" stroke="#444" stroke-width="1" stroke-dasharray="1.2 2.6"/>
<circle cx="348.5" cy="360.75" r="4.9" fill="#fff" stroke="#484848" stroke-width="1.05"/>
<circle cx="348.5" cy="360.75" r="1.05" fill="#1c1c1c"/>
<line x1="353.4" y1="360.75" x2="362.5" y2="360.75" stroke="#565656" stroke-width="1" />
<line x1="348.5" y1="365.6" x2="348.5" y2="374.5" stroke="#565656" stroke-width="1" />
<circle cx="390.5" cy="360.75" r="4.9" fill="#fff" stroke="#484848" stroke-width="1.05"/>
<circle cx="390.5" cy="360.75" r="1.05" fill="#1c1c1c"/>
<line x1="376.5" y1="360.75" x2="385.6" y2="360.75" stroke="#565656" stroke-width="1" />
<line x1="395.4" y1="360.75" x2="404.5" y2="360.75" stroke="#565656" stroke-width="1" />
<line x1="390.5" y1="365.6" x2="390.5" y2="374.5" stroke="#565656" stroke-width="1" />
<circle cx="432.5" cy="360.75" r="4.9" fill="#fff" stroke="#484848" stroke-width="1.05"/>
<circle cx="432.5" cy="360.75" r="1.05" fill="#1c1c1c"/>
<line x1="418.5" y1="360.75" x2="427.6" y2="360.75" stroke="#565656" stroke-width="1" />
<line x1="437.4" y1="360.75" x2="446.5" y2="360.75" stroke="#565656" stroke-width="1" />
<line x1="432.5" y1="365.6" x2="432.5" y2="374.5" stroke="#565656" stroke-width="1" />
<line x1="432.5" y1="346.5" x2="432.5" y2="355.8" stroke="#565656" stroke-width="1" />
<circle cx="474.5" cy="360.75" r="4.9" fill="#fff" stroke="#484848" stroke-width="1.05"/>
<circle cx="474.5" cy="360.75" r="1.05" fill="#1c1c1c"/>
<line x1="460.5" y1="360.75" x2="469.6" y2="360.75" stroke="#565656" stroke-width="1" />
<line x1="479.4" y1="360.75" x2="488.5" y2="360.75" stroke="#565656" stroke-width="1" />
<line x1="474.5" y1="365.6" x2="474.5" y2="374.5" stroke="#565656" stroke-width="1" />
<line x1="474.5" y1="346.5" x2="474.5" y2="355.8" stroke="#565656" stroke-width="1" />
<circle cx="516.5" cy="360.75" r="4.9" fill="#fff" stroke="#484848" stroke-width="1.05"/>
<circle cx="516.5" cy="360.75" r="1.05" fill="#1c1c1c"/>
<line x1="502.5" y1="360.75" x2="511.6" y2="360.75" stroke="#565656" stroke-width="1" />
<line x1="521.4" y1="360.75" x2="530.5" y2="360.75" stroke="#565656" stroke-width="1" />
<line x1="516.5" y1="365.6" x2="516.5" y2="374.5" stroke="#565656" stroke-width="1" />
<line x1="348.5" y1="280.5" x2="348.5" y2="355.8" stroke="#565656" stroke-width="1" />
<line x1="390.5" y1="309.5" x2="390.5" y2="355.8" stroke="#565656" stroke-width="1" />
<line x1="516.5" y1="280.5" x2="516.5" y2="355.8" stroke="#565656" stroke-width="1" />
<line x1="540.5" y1="325.75" x2="580.7" y2="325.75" stroke="#565656" stroke-width="1" />
<line x1="540.5" y1="385.5" x2="580.7" y2="385.5" stroke="#565656" stroke-width="1" />
<line x1="577.5" y1="326" x2="577.5" y2="385.5" stroke="#565656" stroke-width="1" />
<polygon points="577.5,325.75 579.4,335.25 575.6,335.25" fill="#151515"/>
<polygon points="577.5,385.5 575.6,376 579.4,376" fill="#151515"/>
<path d="M562.72,365.64 L575,371.33M562.72,373.6 L562.72,365.64M573.83,361.09 L574.41,361.66 L575,361.09 L574.41,360.52 L573.83,361.09M565.64,355.97 L565.05,355.97 L563.88,355.4 L563.3,354.83 L562.72,353.69 L562.72,351.42 L563.3,350.28 L563.88,349.71 L565.05,349.14 L566.23,349.14 L567.39,349.71 L569.15,350.85 L575,356.54 L575,348.57M562.72,338.34 L562.72,344.02 L567.98,344.59 L567.39,344.02 L566.81,342.32 L566.81,340.61 L567.39,338.91 L568.57,337.77 L570.32,337.2 L571.49,337.2 L573.25,337.77 L574.41,338.91 L575,340.61 L575,342.32 L574.41,344.02 L573.83,344.59 L572.66,345.16" fill="none" stroke="#4a4a4a" stroke-width="1.0" stroke-linecap="round" stroke-linejoin="round"/>
<line x1="541.2" y1="298.2" x2="590" y2="298.2" stroke="#565656" stroke-width="1" />
<line x1="541.2" y1="298.2" x2="520.2" y2="352" stroke="#565656" stroke-width="1" />
<polygon points="519.3,354.3 520.98,344.76 524.52,346.14" fill="#151515"/>
<path d="M552.34,289.91 L552.15,291.33 L551.57,292.61 L550.69,293.63 L549.56,294.28 L548.32,294.51 L547.08,294.28 L545.96,293.63 L545.07,292.61 L544.5,291.33 L544.3,289.91 L544.5,288.49 L545.07,287.2 L545.96,286.19 L547.08,285.53 L548.32,285.31 L549.56,285.53 L550.69,286.19 L551.57,287.2 L552.15,288.49 L552.34,289.91M545.17,295.51 L550.83,284.47M554.44,286.03 L555.61,285.45 L557.36,283.73 L557.36,295.8M565.52,294.65 L564.93,295.23 L565.52,295.8 L566.1,295.23 L565.52,294.65M570.76,286.6 L570.76,286.03 L571.35,284.88 L571.93,284.3 L573.1,283.73 L575.43,283.73 L576.59,284.3 L577.18,284.88 L577.76,286.03 L577.76,287.18 L577.18,288.32 L576.01,290.05 L570.18,295.8 L578.34,295.8M585.34,283.73 L583.59,284.3 L582.42,286.03 L581.84,288.9 L581.84,290.62 L582.42,293.5 L583.59,295.23 L585.34,295.8 L586.5,295.8 L588.25,295.23 L589.42,293.5 L590,290.62 L590,288.9 L589.42,286.03 L588.25,284.3 L586.5,283.73 L585.34,283.73" fill="none" stroke="#4a4a4a" stroke-width="1.0" stroke-linecap="round" stroke-linejoin="round"/>
<path d="M376.5,397.41 L376.5,409.7M376.5,397.41 L381.98,397.41 L383.81,398 L384.42,398.58 L385.02,399.75 L385.02,401.51 L384.42,402.68 L383.81,403.26 L381.98,403.85 L376.5,403.85M397.81,400.34 L397.2,399.17 L395.99,398 L394.77,397.41 L392.33,397.41 L391.11,398 L389.9,399.17 L389.29,400.34 L388.68,402.09 L388.68,405.02 L389.29,406.77 L389.9,407.94 L391.11,409.12 L392.33,409.7 L394.77,409.7 L395.99,409.12 L397.2,407.94 L397.81,406.77M402.08,397.41 L402.08,409.7M402.08,397.41 L407.56,397.41 L409.38,398 L409.99,398.58 L410.6,399.75 L410.6,400.93 L409.99,402.09 L409.38,402.68 L407.56,403.26M402.08,403.26 L407.56,403.26 L409.38,403.85 L409.99,404.44 L410.6,405.6 L410.6,407.36 L409.99,408.53 L409.38,409.12 L407.56,409.7 L402.08,409.7" fill="none" stroke="#4a4a4a" stroke-width="1.0" stroke-linecap="round" stroke-linejoin="round"/>
<path d="M424.8,397.41 L424.8,409.7M424.8,409.7 L432.47,409.7M438.86,397.41 L433.74,409.7M438.86,397.41 L443.97,409.7M435.66,405.6 L442.05,405.6M445.24,397.41 L450.36,403.26 L450.36,409.7M455.47,397.41 L450.36,403.26M461.86,397.41 L460.58,398 L459.3,399.17 L458.66,400.34 L458.02,402.09 L458.02,405.02 L458.66,406.77 L459.3,407.94 L460.58,409.12 L461.86,409.7 L464.41,409.7 L465.69,409.12 L466.97,407.94 L467.61,406.77 L468.24,405.02 L468.24,402.09 L467.61,400.34 L466.97,399.17 L465.69,398 L464.41,397.41 L461.86,397.41M472.72,397.41 L472.72,406.19 L473.36,407.94 L474.63,409.12 L476.55,409.7 L477.83,409.7 L479.74,409.12 L481.02,407.94 L481.66,406.19 L481.66,397.41M489.33,397.41 L489.33,409.7M484.86,397.41 L493.8,397.41" fill="none" stroke="#4a4a4a" stroke-width="1.0" stroke-linecap="round" stroke-linejoin="round"/></svg>
</body></html>
